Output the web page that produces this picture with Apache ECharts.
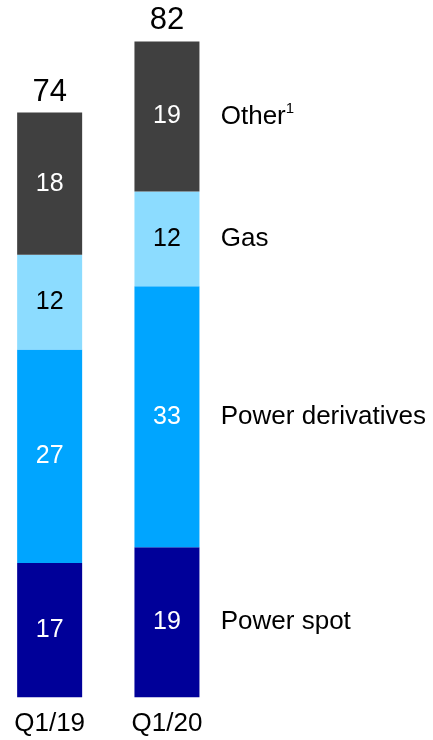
<!DOCTYPE html>
<html>
<head>
<meta charset="utf-8">
<script src="https://cdn.jsdelivr.net/npm/echarts@6/dist/echarts.min.js"></script>
<style>html,body{margin:0;padding:0;background:#fff;}#c{width:433px;height:740px;}</style>
</head>
<body>
<div id="c"></div>
<script>
const categories = ['Q1/19', 'Q1/20'];
const seriesNames = ['Power spot', 'Power derivatives', 'Gas', 'Other'];
const powerSpot = [17, 19];
const powerDerivatives = [27, 33];
const gas = [12, 12];
const other = [18, 19];
const totals = [74, 82];

const colors = ['#000099', '#00A5FF', '#8CDCFF', '#404040'];
const labelColors = ['#ffffff', '#ffffff', '#000000', '#ffffff'];
const values = [powerSpot, powerDerivatives, gas, other];
const FONT = 'Liberation Sans, Arial, sans-serif';

const chart = echarts.init(document.getElementById('c'), null, {renderer: 'canvas'});

const series = values.map((vals, si) => ({
  name: seriesNames[si],
  type: 'bar',
  stack: 'a',
  barWidth: 65,
  clip: false,
  silent: true,
  itemStyle: {color: colors[si]},
  label: {
    show: true,
    position: 'inside',
    color: labelColors[si],
    fontSize: 25,
    fontFamily: FONT
  },
  data: vals.map(v => v).concat([{
    value: vals[vals.length - 1],
    itemStyle: {color: 'transparent'},
    label: {
      show: true,
      position: [-31, '50%'],
      align: 'left',
      verticalAlign: 'middle',
      color: '#000',
      fontSize: 26,
      fontFamily: FONT,
      formatter: si === 3 ? '{n|Other}{s|1}' : seriesNames[si],
      rich: {
        n: {fontSize: 26, fontFamily: FONT, color: '#000', lineHeight: 30},
        s: {fontSize: 15, fontFamily: FONT, color: '#000', verticalAlign: 'top', lineHeight: 30}
      }
    }
  }])
}));

series.push({
  name: 'Total',
  type: 'bar',
  stack: 'a',
  barWidth: 65,
  clip: false,
  silent: true,
  itemStyle: {color: 'transparent'},
  label: {
    show: true,
    position: 'top',
    distance: 5,
    color: '#000',
    fontSize: 31,
    fontFamily: FONT,
    formatter: p => totals[p.dataIndex]
  },
  data: totals.map(() => 0).concat(['-'])
});

chart.setOption({
  animation: false,
  grid: {left: 49.65, right: 148.75, top: 49.3, bottom: 42.7, containLabel: false, outerBoundsMode: 'none'},
  xAxis: {
    type: 'category',
    boundaryGap: false,
    data: categories.concat(['']),
    axisLine: {show: false},
    axisTick: {show: false},
    splitLine: {show: false},
    axisLabel: {color: '#000', fontSize: 26, fontFamily: FONT, margin: 14}
  },
  yAxis: {
    type: 'value',
    min: 0,
    max: Math.max(...totals),
    show: false,
    splitLine: {show: false}
  },
  series: series
});
</script>
</body>
</html>
